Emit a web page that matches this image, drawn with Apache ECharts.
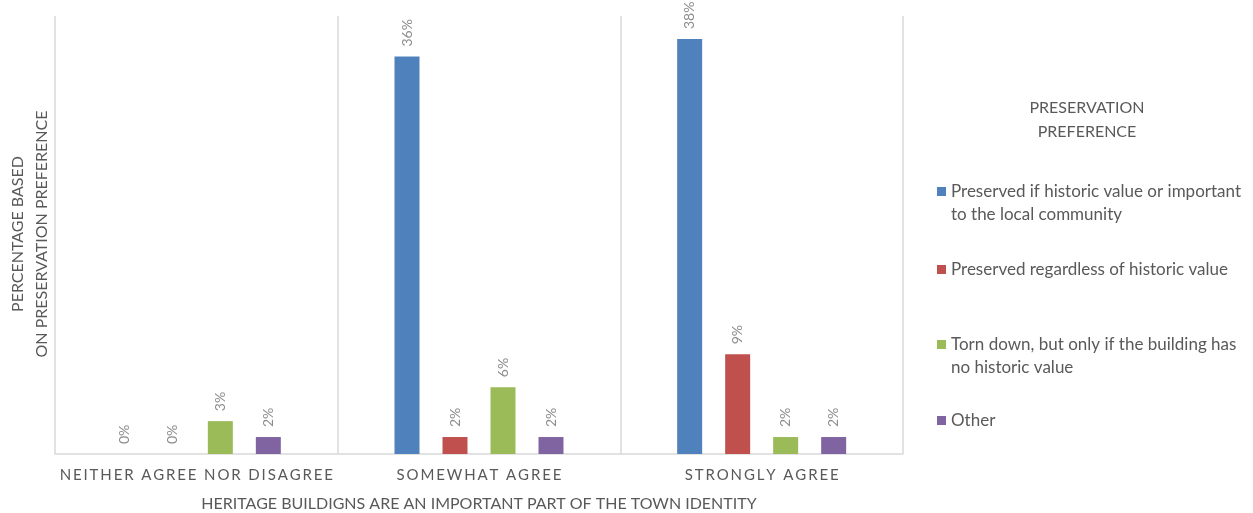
<!DOCTYPE html>
<html><head><meta charset="utf-8">
<script src="https://cdn.jsdelivr.net/npm/echarts@6/dist/echarts.min.js"></script>
<style>html,body{margin:0;padding:0;background:#fff}#c{width:1253px;height:513px}</style>
</head><body><div id="c"></div>
<script>
const categories = ['NEITHER AGREE NOR DISAGREE', 'SOMEWHAT AGREE', 'STRONGLY AGREE'];
const seriesNames = [
  'Preserved if historic value or important\nto the local community',
  'Preserved regardless of historic value',
  'Torn down, but only if the building has\nno historic value',
  'Other'
];
const preservedIfHistoric = [0, 36.3, 37.9];
const preservedRegardless = [0, 1.55, 9.1];
const tornDown = [3.0, 6.1, 1.55];
const other = [1.55, 1.55, 1.55];
const colors = ['#4F81BD', '#C0504D', '#9BBB59', '#8064A2'];
const xAxisTitle = 'HERITAGE BUILDIGNS ARE AN IMPORTANT PART OF THE TOWN IDENTITY';
const yAxisTitle = 'PERCENTAGE BASED\nON PRESERVATION PREFERENCE';
const legendTitle = 'PRESERVATION\nPREFERENCE';

const FONT = 'Lato';
const values = [preservedIfHistoric, preservedRegardless, tornDown, other];
const spaced = s => s.split('').join('\u2009');

const labelCfg = {
  show: true, position: 'top', rotate: 90, align: 'left', verticalAlign: 'middle',
  distance: 10, color: '#8c8c8c', fontSize: 14, fontFamily: FONT,
  formatter: p => Math.round(p.value) + '%'
};

// two-line entries get a blank leading line so the marker sits on the first text line
const legendTops = [157, 258, 310, 409];
const legends = seriesNames.map((n, i) => ({
  data: [n], orient: 'vertical', left: 937, top: legendTops[i], padding: 0,
  itemWidth: 9, itemHeight: 9, itemGap: 0, icon: 'rect', selectedMode: false,
  formatter: name => (name.indexOf('\n') >= 0 ? '\u00a0\n' + name : name),
  textStyle: {color: '#595959', fontSize: 17, fontFamily: FONT, lineHeight: 23}
}));

const chart = echarts.init(document.getElementById('c'), null, {renderer: 'canvas'});
chart.setOption({
  animation: false,
  color: colors,
  legend: legends,
  grid: {left: 55, right: 350, top: 16, bottom: 59, containLabel: false, outerBoundsMode: 'none'},
  xAxis: {
    type: 'category', data: categories,
    axisLine: {show: true, lineStyle: {color: '#d9d9d9', width: 1.5}},
    axisTick: {show: false},
    splitLine: {show: true, interval: 0, lineStyle: {color: '#d9d9d9', width: 1.5}},
    axisLabel: {interval: 0, color: '#595959', fontSize: 15, fontFamily: FONT, margin: 14, formatter: v => spaced(v)},
    name: xAxisTitle, nameLocation: 'middle', nameGap: 42,
    nameTextStyle: {color: '#595959', fontSize: 16, fontFamily: FONT}
  },
  yAxis: {
    type: 'value', min: 0, max: 40, interval: 10,
    axisLine: {show: false}, axisTick: {show: false}, axisLabel: {show: false},
    splitLine: {show: false}
  },
  graphic: [
    {type: 'text', x: 30, y: 234, rotation: Math.PI / 2,
     style: {text: yAxisTitle, align: 'center', verticalAlign: 'middle', fill: '#595959',
             font: '16px ' + FONT, lineHeight: 24}},
    {type: 'text', x: 1087, y: 120,
     style: {text: legendTitle, align: 'center', verticalAlign: 'middle', fill: '#595959',
             font: '16px ' + FONT, lineHeight: 24}}
  ],
  series: seriesNames.map((n, i) => ({
    name: n, type: 'bar', data: values[i], barWidth: 25, barGap: '92%', barCategoryGap: '40%',
    label: labelCfg
  }))
});
</script></body></html>
